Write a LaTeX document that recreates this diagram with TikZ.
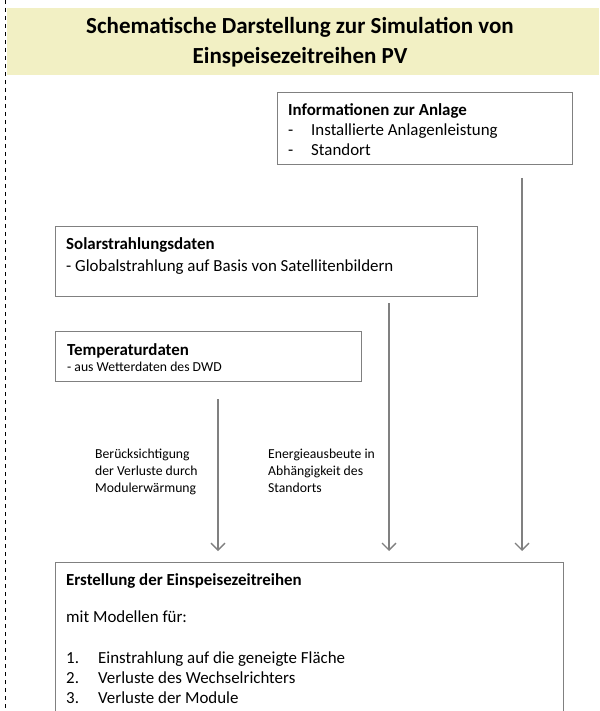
\documentclass[tikz,border=0pt]{standalone}
\usepackage{fontspec}
\setmainfont{Carlito}
\usetikzlibrary{arrows.meta}
\definecolor{titlebg}{RGB}{242,240,196}
\definecolor{boxline}{RGB}{128,128,128}
\begin{document}
\begin{tikzpicture}[x=1pt,y=-1pt,
  box/.style={draw=boxline, line width=1.3pt, inner sep=0pt, anchor=north west},
  txt/.style={anchor=base west, inner sep=0pt, font=\fontsize{16.9}{20}\selectfont},
  btxt/.style={anchor=base west, inner sep=0pt, font=\fontsize{16.9}{20}\selectfont\bfseries},
  stxt/.style={anchor=base west, inner sep=0pt, font=\fontsize{13.7}{16}\selectfont},
  ltxt/.style={anchor=base west, inner sep=0pt, font=\fontsize{13.7}{17}\selectfont},
  ttxt/.style={anchor=base, inner sep=0pt, font=\fontsize{23}{30}\selectfont\bfseries},
  arr/.style={draw=boxline, line width=1.3pt, -{Straight Barb[length=7pt,width=14pt]}},
  sep/.style={line width=1pt, dash pattern=on 4pt off 4pt}]
\useasboundingbox (0,0) rectangle (599,711);
\clip (0,0) rectangle (599,711);
% left dashed line
\draw[sep] (5,0) -- (5,711);
% title band
\node[fill=titlebg, anchor=north west, minimum width=592pt, minimum height=67pt, inner sep=0pt] (title) at (7,8) {};
\node[ttxt] (title1) at (300,33.5) {Schematische Darstellung zur Simulation von};
\node[ttxt] (title2) at (300,63.5) {Einspeisezeitreihen PV};
% boxes
\node[box, minimum width=295pt, minimum height=72pt] (info) at (277,92) {};
\node[btxt] (infoh) at (288,115.5) {Informationen zur Anlage};
\node[txt] (infod1) at (288,136) {-};
\node[txt] (infot1) at (311,136) {Installierte Anlagenleistung};
\node[txt] (infod2) at (288,156) {-};
\node[txt] (infot2) at (311,156) {Standort};

\node[box, minimum width=422pt, minimum height=70pt] (solar) at (55,226) {};
\node[btxt] (solarh) at (66,249) {Solarstrahlungsdaten};
\node[txt] (solart) at (66,271) {- Globalstrahlung auf Basis von Satellitenbildern};

\node[box, minimum width=306pt, minimum height=50pt] (temp) at (55,331) {};
\node[btxt] (temph) at (67,355) {Temperaturdaten};
\node[stxt] (tempt) at (67,371) {- aus Wetterdaten des DWD};

\node[box, minimum width=508pt, minimum height=200pt] (final) at (55,562) {};
\node[btxt] (finalh) at (66,585) {Erstellung der Einspeisezeitreihen};
\node[txt] (finalm) at (66,622) {mit Modellen für:};
\node[txt] (n1) at (66,663) {1.};
\node[txt] (i1) at (98,663) {Einstrahlung auf die geneigte Fläche};
\node[txt] (n2) at (66,683) {2.};
\node[txt] (i2) at (98,683) {Verluste des Wechselrichters};
\node[txt] (n3) at (66,703) {3.};
\node[txt] (i3) at (98,703) {Verluste der Module};

% labels
\node[ltxt] (lab1a) at (95,458) {Berücksichtigung};
\node[ltxt] (lab1b) at (95,475) {der Verluste durch};
\node[ltxt] (lab1c) at (95,492) {Modulerwärmung};
\node[ltxt] (lab2a) at (268,458) {Energieausbeute in};
\node[ltxt] (lab2b) at (268,475) {Abhängigkeit des};
\node[ltxt] (lab2c) at (268,492) {Standorts};

% arrows
\coordinate (s1) at (218,399);
\coordinate (e1) at (218,551);
\coordinate (s2) at (389,303);
\coordinate (e2) at (389,551);
\coordinate (s3) at (522,178);
\coordinate (e3) at (522,551);
\draw[arr] (s1) -- (e1);
\draw[arr] (s2) -- (e2);
\draw[arr] (s3) -- (e3);
\end{tikzpicture}
\end{document}
